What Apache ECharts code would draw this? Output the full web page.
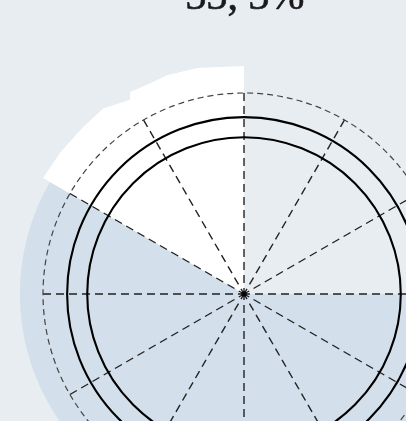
<!DOCTYPE html>
<html>
  <head>
    <meta charset="utf-8" />
    <title>ECharts</title>
    <script src="https://cdn.jsdelivr.net/npm/echarts@6/dist/echarts.min.js"></script>
  </head>
  <body style="margin:0">
    <div id="main" style="width: 406px;height:421px;"></div>
    <script type="text/javascript">
// radius is in units of the dashed circle (1 = dashed ring), angle in degrees
const titleText = '33, 3%';
const whiteEdge = [
  [1.134, 90], [1.148, 101.7], [1.154, 109.4], [1.148, 113.2], [1.154, 119.4],
  [1.12, 120.4], [1.159, 127.2], [1.154, 134], [1.154, 142.5], [1.154, 150]
];
const blueRadius = 1.115;
const blueAngles = [150, 360];
const rings = [0.88, 0.78];

var chartDom = document.getElementById('main');
var myChart = echarts.init(chartDom);
var option;

function toRad(d) { return d * Math.PI / 180; }
function ringSize(api, r) {
  var c = api.coord([0, 0]);
  var p = api.coord([r, 0]);
  return { cx: c[0], cy: c[1], r: Math.hypot(p[0] - c[0], p[1] - c[1]) };
}

option = {
  backgroundColor: '#e8edf2',
  animation: false,
  graphic: [
    {
      type: 'text',
      style: {
        text: titleText,
        x: 245,
        y: 19,
        textAlign: 'center',
        textVerticalAlign: 'bottom',
        font: '42px "Liberation Serif"',
        fill: '#1a1a1a',
        stroke: '#1a1a1a',
        lineWidth: 0.6
      }
    }
  ],
  polar: {
    center: [244, 294],
    radius: 201
  },
  angleAxis: {
    type: 'value',
    min: 0,
    max: 360,
    interval: 30,
    startAngle: 0,
    clockwise: false,
    z: 10,
    axisLine: { show: true, lineStyle: { color: '#444', width: 1.2, type: [6, 4] } },
    axisTick: { show: false },
    axisLabel: { show: false },
    splitLine: { show: true, lineStyle: { color: '#222', width: 1.4, type: [8, 5] } }
  },
  radiusAxis: {
    type: 'value',
    min: 0,
    max: 1,
    z: 10,
    axisLine: { show: false },
    axisTick: { show: false },
    axisLabel: { show: false },
    splitLine: { show: false }
  },
  series: [
    {
      type: 'custom',
      coordinateSystem: 'polar',
      z: 1,
      data: [[0, 0]],
      renderItem: function (params, api) {
        var s = ringSize(api, blueRadius);
        var pts = whiteEdge.map(function (p) { return api.coord(p); });
        pts.push(api.coord([0, 0]));
        return {
          type: 'group',
          children: [
            {
              type: 'sector',
              shape: {
                cx: s.cx, cy: s.cy, r0: 0, r: s.r,
                startAngle: -toRad(blueAngles[0]),
                endAngle: -toRad(blueAngles[1]),
                clockwise: false
              },
              style: { fill: '#d3dfea' }
            },
            {
              type: 'polygon',
              shape: { points: pts },
              style: { fill: '#ffffff' }
            }
          ]
        };
      }
    },
    {
      type: 'custom',
      coordinateSystem: 'polar',
      z: 20,
      data: rings.map(function (r) { return [r, 0]; }),
      renderItem: function (params, api) {
        var s = ringSize(api, api.value(0));
        return {
          type: 'circle',
          shape: s,
          style: { fill: null, stroke: '#000', lineWidth: 2.1 }
        };
      }
    },
    {
      type: 'scatter',
      coordinateSystem: 'polar',
      z: 20,
      symbolSize: 5,
      itemStyle: { color: '#000' },
      data: [[0, 0]]
    }
  ]
};

option && myChart.setOption(option);
    </script>
  </body>
</html>
